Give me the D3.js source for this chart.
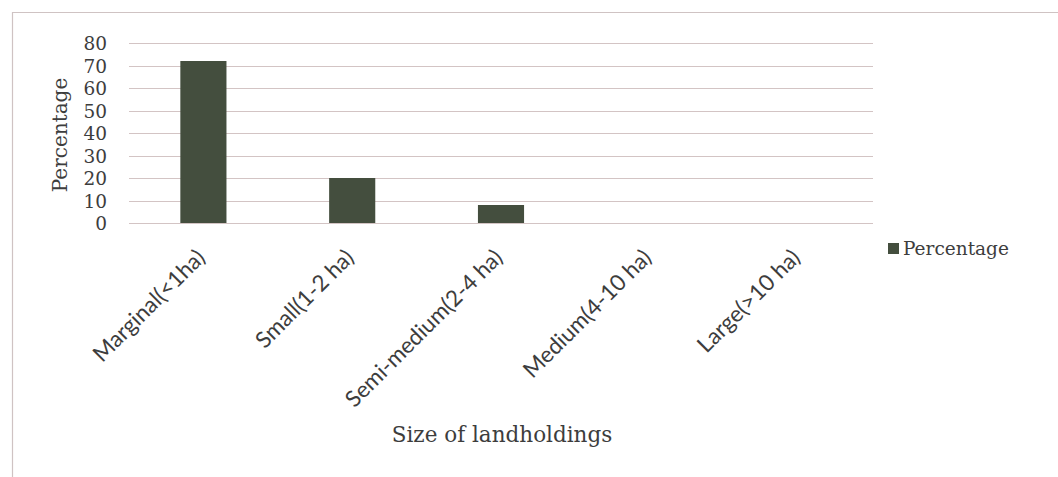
<!DOCTYPE html>
<html>
<head>
<meta charset="utf-8">
<script src="https://cdn.jsdelivr.net/npm/d3@7"></script>
<style>
  html, body { margin: 0; padding: 0; background: #ffffff; }
  svg { display: block; }
</style>
</head>
<body>
<svg id="chart" width="1058" height="477"></svg>
<script>
// Landholding size classes and their share of households (%)
const categories = [
  "Marginal(<1ha)",
  "Small(1-2 ha)",
  "Semi-medium(2-4 ha)",
  "Medium(4-10 ha)",
  "Large(>10 ha)"
];
const percentages = [72, 20, 8, 0, 0];
const yTicks = [0, 10, 20, 30, 40, 50, 60, 70, 80];
const seriesName = "Percentage";
const yTitle = "Percentage";
const xTitle = "Size of landholdings";

const width = 1058, height = 477;
const plot = { left: 129, right: 873, top: 43, bottom: 223 };

const textColor = "#3d3d3d";
const gridColor = "#d3c4c4";
const barColor = "#444e3e";
const serif = "'DejaVu Serif', serif";
const sans = "Lato, 'Open Sans', sans-serif";

const svg = d3.select("#chart");

// Outer chart frame (top and left edges)
svg.append("path")
  .attr("d", `M12.5,${height} L12.5,12.5 L${width},12.5`)
  .attr("fill", "none")
  .attr("stroke", "#cfc3c3")
  .attr("stroke-width", 1.2);

const x = d3.scaleBand()
  .domain(categories)
  .range([plot.left, plot.right])
  .padding(0);

const y = d3.scaleLinear()
  .domain([0, 80])
  .range([plot.bottom, plot.top]);

// Horizontal gridlines
svg.append("g")
  .selectAll("line")
  .data(yTicks)
  .join("line")
  .attr("x1", plot.left)
  .attr("x2", plot.right)
  .attr("y1", d => Math.round(y(d)) + 0.5)
  .attr("y2", d => Math.round(y(d)) + 0.5)
  .attr("stroke", gridColor)
  .attr("stroke-width", 1.2);

// Y axis labels
const yAxis = d3.axisLeft(y).tickValues(yTicks).tickSize(0).tickPadding(0);
const yG = svg.append("g")
  .attr("transform", `translate(${plot.left - 22},0)`)
  .call(yAxis);
yG.select(".domain").remove();
yG.selectAll("text")
  .attr("font-family", serif)
  .attr("font-size", 18.5)
  .attr("fill", textColor)
  .attr("dy", "0.36em");

// Bars
const barWidth = x.bandwidth() * 0.31;
svg.append("g")
  .selectAll("rect")
  .data(categories.map((c, i) => ({ c, v: percentages[i] })))
  .join("rect")
  .attr("x", d => x(d.c) + x.bandwidth() / 2 - barWidth / 2)
  .attr("width", barWidth)
  .attr("y", d => y(d.v))
  .attr("height", d => y(0) - y(d.v))
  .attr("fill", barColor);

// Category labels, rotated
const xAxis = d3.axisBottom(x).tickSize(0).tickPadding(0);
const xG = svg.append("g")
  .attr("transform", `translate(0,${plot.bottom})`)
  .call(xAxis);
xG.select(".domain").remove();
xG.selectAll(".tick text")
  .attr("font-family", sans)
  .attr("font-size", 22.5)
  .attr("fill", textColor)
  .attr("text-anchor", "end")
  .attr("dy", 0)
  .attr("transform", "translate(3,36) rotate(-45)");

// Axis titles
svg.append("text")
  .attr("transform", `translate(67,${(plot.top + plot.bottom) / 2 + 2}) rotate(-90)`)
  .attr("text-anchor", "middle")
  .attr("font-family", serif)
  .attr("font-size", 20)
  .attr("fill", textColor)
  .text(yTitle);

svg.append("text")
  .attr("x", (plot.left + plot.right) / 2 + 1)
  .attr("y", 442)
  .attr("text-anchor", "middle")
  .attr("font-family", serif)
  .attr("font-size", 21.5)
  .attr("fill", textColor)
  .text(xTitle);

// Legend
const legend = svg.append("g").attr("transform", "translate(888,243)");
legend.append("rect")
  .attr("width", 11)
  .attr("height", 11)
  .attr("fill", barColor);
legend.append("text")
  .attr("x", 15)
  .attr("y", 12)
  .attr("font-family", serif)
  .attr("font-size", 18.5)
  .attr("fill", textColor)
  .text(seriesName);
</script>
</body>
</html>
